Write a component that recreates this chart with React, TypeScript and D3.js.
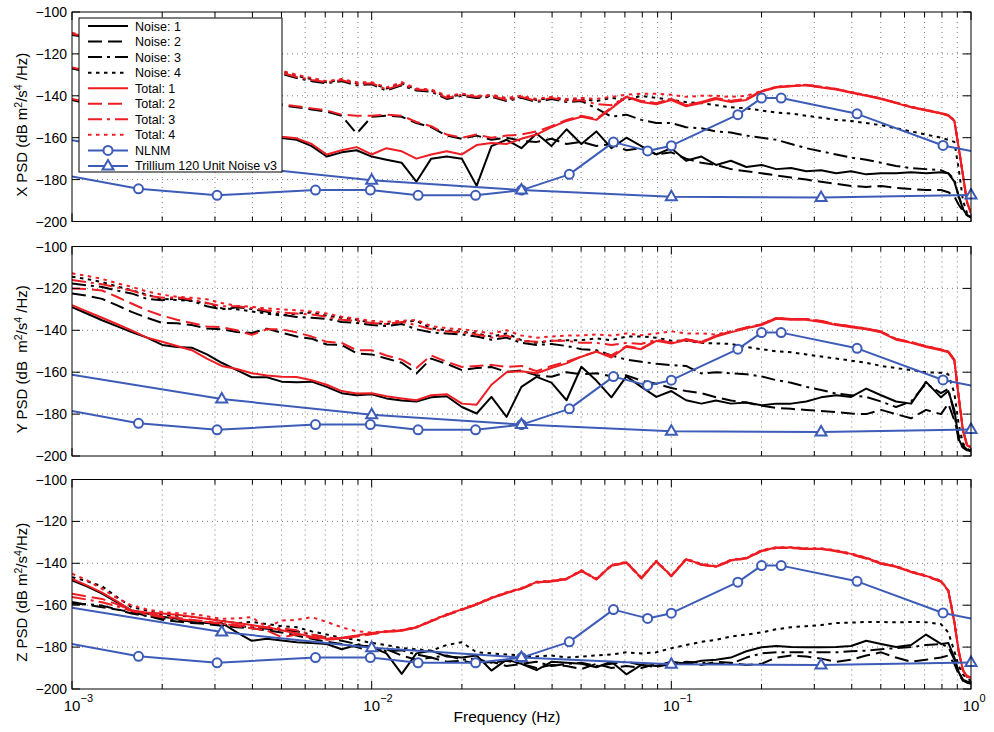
import React from 'react';
import * as d3 from 'd3';

// frequency grid (Hz) the PSD curves were read at
const freqs = [
  0.001, 0.00112, 0.00126, 0.00141, 0.00158, 0.00178, 0.002, 0.00224, 0.00251, 0.00282,
  0.00316, 0.00355, 0.00398, 0.00447, 0.00501, 0.00562, 0.00631, 0.00708, 0.00794, 0.00891,
  0.01, 0.0112, 0.0126, 0.0141, 0.0158, 0.0178, 0.02, 0.0224, 0.0251, 0.0282,
  0.0316, 0.0355, 0.0398, 0.0447, 0.0501, 0.0562, 0.0631, 0.0708, 0.0794, 0.0891,
  0.1, 0.112, 0.126, 0.141, 0.158, 0.178, 0.2, 0.224, 0.251, 0.282,
  0.316, 0.355, 0.398, 0.447, 0.501, 0.562, 0.631, 0.708, 0.794, 0.84,
  0.88, 0.91, 0.94, 0.97, 1.0,
];

// ---- X component ----
const noiseX1 = [
  -142, -143.7, -145.2, -146.7, -148.2, -149.7, -151.2, -152.7, -153.7, -155.2,
  -156.2, -157.2, -158.2, -159.2, -160.2, -161, -164, -169, -167, -166,
  -169, -170.5, -172, -181, -170, -169, -170, -183, -164, -161,
  -165, -158, -164, -156, -163, -157, -165, -160, -164, -168,
  -165, -171, -169, -173, -171, -174, -173, -175, -174.5, -176,
  -175.5, -177, -176, -177.5, -177, -177, -176.5, -177, -176.5, -177,
  -181, -188, -194, -197, -198,
];
const noiseX2 = [
  -127, -128.5, -130, -131.5, -133, -134.5, -136, -137.5, -138.5, -139.5,
  -140.5, -141.5, -142.5, -143.5, -144.5, -145.5, -146.5, -147.5, -149.5, -158,
  -150, -149.5, -150, -153, -155, -159, -160.5, -159, -161, -160,
  -161.5, -162, -160.5, -163, -162, -164, -163, -166, -165, -168,
  -167, -170, -172, -173, -175, -176, -177, -178, -179, -180,
  -181, -182, -183, -183.5, -183, -184, -184.5, -185, -185, -186,
  -188, -192, -195, -197, -198,
];
const noiseX3 = [
  -111, -112, -113.5, -115, -116.5, -118, -119.5, -121, -122.5, -124,
  -125, -126, -127, -128, -129.5, -131.5, -133, -134, -133, -135,
  -134.5, -137.5, -135, -137.5, -138, -141.5, -140, -141, -140.5, -142.5,
  -141, -143, -141.5, -143, -142.5, -146, -150, -149, -151.5, -153,
  -153, -155, -155.5, -157, -157.5, -159, -160, -161, -163, -165,
  -166.5, -168, -169.5, -170.5, -172, -173.5, -174.5, -175, -175.5, -177,
  -180, -188, -194, -197, -198,
];
const noiseX4 = [
  -110.5, -111.5, -113, -114.5, -116, -117.5, -119, -120.5, -122, -123,
  -124, -125, -126, -127, -128.5, -130.5, -132, -133.5, -132.5, -134,
  -134, -136.5, -134, -137, -137.5, -140.5, -139.5, -140.5, -140, -141.5,
  -140.5, -142, -141, -142, -141.5, -142.5, -141, -142, -140, -141,
  -142, -143, -143.5, -144.5, -145.5, -146, -147, -148, -148.5, -149.5,
  -150.5, -151.5, -152, -153, -154, -155.5, -157, -158.5, -160, -161,
  -162, -175, -190, -196, -198,
];
const totalX1 = [
  -141.5, -143, -144.5, -146, -147.5, -149, -150.5, -152, -153, -154.5,
  -155.5, -156.5, -157.5, -158.5, -159.5, -160.3, -163, -168, -166, -164.5,
  -168, -165, -166.5, -170, -168, -166.5, -168, -163.5, -162.5, -163,
  -160.5, -158.5, -155, -152, -150, -151.5, -146, -140.5, -143, -144,
  -142, -145, -143.5, -141.5, -143, -142, -138, -136, -135.5, -135,
  -136, -137, -138.5, -140, -141.5, -143.5, -145.5, -147, -148.5, -149.5,
  -152, -165, -178, -191, -196,
];
const totalX2 = [
  -126.5, -128, -129.5, -131, -132.5, -134, -135.5, -137, -138, -139,
  -140, -141, -142, -143, -144, -145, -146, -147, -149, -149.5,
  -149.5, -149, -149.5, -152.5, -154.5, -158.5, -160, -158.5, -160, -159,
  -158.5, -157, -154.5, -151.5, -149.5, -151, -145.5, -140.5, -142.5, -143.5,
  -141.5, -144.5, -143, -141, -142.5, -141.5, -137.8, -135.8, -135.3, -134.8,
  -135.8, -136.8, -138.3, -139.8, -141.3, -143.3, -145.3, -146.8, -148.3, -149.3,
  -151.8, -164.8, -177.8, -190.8, -195.8,
];
const totalX3 = [
  -110.5, -111.5, -113, -114.5, -116, -117.5, -119, -120.5, -122, -123.5,
  -124.5, -125.5, -126.5, -127.5, -129, -131, -132.5, -133.5, -132.5, -134.5,
  -134, -137, -134.5, -137, -137.5, -141, -139.5, -140.5, -140, -142,
  -140.5, -142.5, -141, -142.5, -142, -144, -144.5, -140.5, -142.5, -143.5,
  -141.5, -144.5, -143, -141, -142.5, -141.5, -137.8, -135.8, -135.3, -134.8,
  -135.8, -136.8, -138.3, -139.8, -141.3, -143.3, -145.3, -146.8, -148.3, -149.3,
  -151.8, -164.8, -177.8, -190.8, -195.8,
];
const totalX4 = [
  -110, -111, -112.5, -114, -115.5, -117, -118.5, -120, -121.5, -122.5,
  -123.5, -124.5, -125.5, -126.5, -128, -130, -131.5, -133, -132, -133.5,
  -133.5, -136, -133.5, -136.5, -137, -140, -139, -140, -139.5, -141,
  -140, -141.5, -140.5, -141.5, -141, -141.5, -140.5, -139.5, -139, -139,
  -139.5, -140.5, -140, -140, -140.5, -140, -137.7, -135.7, -135.2, -134.7,
  -135.7, -136.7, -138.2, -139.7, -141.2, -143.2, -145.2, -146.7, -148.2, -149.2,
  -151.7, -164.7, -177.7, -190.7, -195.7,
];

// ---- Y component ----
const noiseY1 = [
  -129, -132, -135.2, -138, -140.8, -143.5, -147, -148, -148.3, -151.5,
  -155.5, -159, -162.4, -162.4, -164.5, -164.8, -164.5, -167, -170, -171,
  -170.5, -172.5, -173.5, -174, -172, -171.5, -176.6, -179.7, -171.8, -181.3,
  -167, -162.2, -165, -173.4, -157.4, -164, -172, -162, -167, -171.8,
  -169, -173.4, -175, -173.5, -175, -174.5, -175.8, -175, -175, -174,
  -172, -171, -171.8, -167.8, -171, -174, -175, -164.6, -172, -169,
  -178, -192, -196, -197.3, -197.5,
];
const noiseY2 = [
  -122.4, -123.5, -125, -128, -131.2, -134, -136.5, -136.6, -137.5, -139.2,
  -139.5, -140.8, -141.3, -139.2, -141.2, -143, -144, -146.8, -147, -151,
  -151.5, -153.5, -155.5, -160.6, -153.5, -156, -159, -158, -157.5, -159.8,
  -159.2, -161.5, -162.2, -160, -161, -160.5, -162, -161.5, -164, -165.5,
  -167.5, -169, -170, -172, -173.5, -174.5, -176, -177, -177.5, -178,
  -178.5, -179, -179.7, -180, -178, -180, -182, -178, -180, -175,
  -183, -190, -195, -197, -197.5,
];
const noiseY3 = [
  -117.6, -118.5, -119.3, -121, -122.4, -125, -125.6, -124.8, -126, -128.5,
  -130, -129, -129.8, -131.2, -132.5, -133.6, -134, -134.5, -136, -136.5,
  -137.5, -138, -137, -139.5, -141, -141.5, -142, -143, -144.5, -143.5,
  -146, -147, -146.5, -147.5, -149, -149.5, -152, -154, -155, -156,
  -156.6, -157, -160.6, -160, -160.5, -161, -162, -163.8, -165, -167,
  -168.5, -170.2, -171, -171.8, -174, -176.6, -174, -165.4, -170, -168,
  -180, -193, -196, -197, -197.5,
];
const noiseY4 = [
  -114.4, -115.5, -117, -119, -120.8, -123, -125, -125.5, -126, -127,
  -129.5, -130, -131, -132, -133, -132, -131.5, -133, -134, -135,
  -136.5, -137, -136, -135.5, -139, -140, -140.7, -141.5, -143, -141.5,
  -144.7, -146, -145, -144.7, -144.7, -143.9, -144.7, -143, -143, -143.5,
  -145, -145, -146, -146.3, -146.5, -148, -149, -150, -150.5, -151.5,
  -152.5, -153.5, -154.5, -155.5, -157, -158, -159, -160, -160.3, -161,
  -170, -185, -194, -196.5, -197.5,
];
const totalY1 = [
  -128, -131, -134, -137, -140, -143.5, -145.5, -147.5, -149.5, -153.5,
  -157, -158.5, -160.5, -161.6, -162.2, -162.3, -163.8, -166, -169, -170.2,
  -170, -171.5, -172.5, -173.4, -171, -170.5, -175, -175.5, -166, -160,
  -159.5, -160.5, -158, -155.8, -152.6, -150.2, -153, -147.8, -149, -145,
  -146.3, -144.7, -146, -143, -141, -139, -137.5, -134.5, -135, -135,
  -136, -137.5, -138.5, -139.5, -141, -144.5, -146, -148, -149.5, -150.5,
  -154.5, -172, -188, -195, -196,
];
const totalY2 = [
  -120, -120.3, -121, -124, -127.2, -130.5, -133, -135, -136.5, -138.2,
  -138.5, -140, -142.2, -139.5, -139.5, -141, -143, -145.5, -146, -149.5,
  -149.5, -152, -154, -158, -152, -155, -157.5, -157, -156.5, -157.5,
  -157, -159.5, -157, -155, -152.5, -150.2, -152, -147.5, -148.7, -144.6,
  -145.9, -144.3, -145.6, -142.6, -140.6, -138.6, -137.1, -134.1, -134.6, -134.6,
  -135.6, -137.1, -138.1, -139.1, -140.6, -144.1, -145.6, -147.6, -149.1, -150.1,
  -154.1, -171.6, -187.6, -194.6, -195.6,
];
const totalY3 = [
  -116, -117, -118, -119.5, -121, -123.5, -124.5, -124.3, -125.3, -127,
  -128.5, -128.5, -129.3, -130.5, -131.5, -132, -132.5, -133.5, -135, -135.5,
  -136.5, -137, -136, -137.5, -139.5, -140.5, -141, -142, -143.5, -142.5,
  -145, -145.5, -145, -145, -146, -146, -147, -146, -146.5, -144.6,
  -145.9, -144.3, -145.6, -142.6, -140.6, -138.6, -137.1, -134.1, -134.6, -134.6,
  -135.6, -137.1, -138.1, -139.1, -140.6, -144.1, -145.6, -147.6, -149.1, -150.1,
  -154.1, -171.6, -187.6, -194.6, -195.6,
];
const totalY4 = [
  -112.8, -114, -115.5, -117.5, -119.2, -121.5, -123, -124, -124.5, -125.2,
  -127, -128.3, -128.8, -129.6, -130, -130.4, -131, -132, -133.5, -134.5,
  -135.5, -136, -135.5, -135, -138, -139, -139.5, -140.5, -141.5, -140,
  -142.5, -143.5, -143, -142.5, -142.5, -142, -142.5, -141.5, -142.3, -141.5,
  -140.5, -141.5, -141.5, -142, -140.5, -139, -137.2, -134.2, -134.7, -134.7,
  -135.7, -137.2, -138.2, -139.2, -140.7, -144.2, -145.7, -147.7, -149.2, -150.2,
  -154.2, -171.7, -187.7, -194.7, -195.7,
];

// ---- Z component ----
const noiseZ1 = [
  -148.2, -151, -154.5, -158.5, -162.5, -164, -165.5, -166.5, -168, -168.5,
  -168.5, -173, -177, -176, -176.9, -177.7, -178, -178.5, -181, -179,
  -180, -183, -192.8, -183, -181.7, -184.5, -185, -184, -191.2, -186,
  -188, -191, -187, -187.5, -188, -189.6, -187, -193, -188.5, -189,
  -187, -188, -186.5, -186, -185, -182, -180.1, -179.5, -180, -180.1,
  -180.1, -180, -179.5, -177, -178.5, -180, -179, -174, -178.5, -178,
  -185, -192, -196, -196.5, -197,
];
const noiseZ2 = [
  -158.5, -159.8, -161, -162, -163.3, -165, -167, -167.8, -168.5, -169,
  -169.8, -170.5, -171, -172, -173, -174.5, -176, -177.5, -178.5, -180,
  -182, -181, -184, -186, -185, -187, -186.5, -188, -187, -189,
  -188, -190, -188.5, -189, -190.5, -188, -190, -189, -190, -188,
  -189, -187.5, -188.5, -187, -187.5, -188.5, -188, -185, -184, -184.5,
  -185.5, -187, -186, -184, -182.5, -185, -187, -186, -185, -184,
  -188, -193, -196, -197, -197.5,
];
const noiseZ3 = [
  -159.3, -159.5, -160.2, -162, -164, -165.2, -166.3, -167, -167.8, -168.5,
  -169.3, -170, -170.5, -171.3, -171.8, -172.5, -174, -175.5, -177, -178.5,
  -180, -182, -181.5, -183.5, -185, -184, -186, -185.5, -187.5, -186.5,
  -188, -187, -189, -188, -187.5, -189, -188, -187, -188.5, -189.5,
  -188, -187, -187.5, -188, -188, -185, -183, -182.5, -182.5, -182.5,
  -182.5, -182.5, -182, -181.7, -181, -180.5, -180, -179, -178.5, -180,
  -186, -192, -195.5, -196.5, -197,
];
const noiseZ4 = [
  -146.6, -148.5, -151, -156, -160.9, -162.5, -164.5, -165, -165.5, -166.5,
  -167.5, -168.5, -168, -169, -170, -170.5, -172.5, -174, -175.5, -176.5,
  -178, -179, -180.5, -181, -181.7, -179, -177.7, -182.5, -183, -183.5,
  -184, -184.5, -184, -185, -184.5, -184, -183.5, -182.5, -183, -182.5,
  -180.5, -179, -177.5, -176.5, -175, -174, -173, -171.5, -170.5, -170,
  -169.5, -168.5, -168.3, -168, -168, -168.2, -168, -168.1, -169, -173,
  -182, -189, -193, -195, -196,
];
const totalZ1 = [
  -147.4, -150.5, -154, -158, -162.5, -163.5, -164, -164.5, -165.5, -166.5,
  -167.5, -168.5, -169.5, -170.5, -172, -173.5, -175, -176, -175.5, -174.5,
  -173.3, -172.5, -172, -170.5, -167.5, -164.5, -162, -159.5, -156.5, -154,
  -152, -149, -148.5, -147.4, -143.5, -147.5, -141, -139.5, -147, -139,
  -146, -138, -140.5, -141.5, -138.5, -137.5, -134, -132.5, -132.5, -133,
  -133, -134, -135.5, -137.5, -140, -141.5, -144, -146, -148.5, -153,
  -168, -182, -191, -194, -194.5,
];
const totalZ2 = [
  -154.5, -155.8, -157, -159.5, -162.5, -164, -165.3, -166, -167, -167.8,
  -168.7, -170, -171, -172.1, -175.3, -174, -175.5, -176.5, -176, -175,
  -173.8, -172.7, -172.2, -170.7, -167.7, -164.7, -162.2, -159.7, -156.7, -154.2,
  -152.2, -149.2, -148.7, -147.6, -143.7, -147.7, -141.2, -139.7, -147.2, -139.2,
  -146.2, -138.2, -140.7, -141.7, -138.7, -137.7, -134.2, -132.7, -132.7, -133.2,
  -133.2, -134.2, -135.7, -137.7, -140.2, -141.7, -144.2, -146.2, -148.7, -153.2,
  -168.2, -182.2, -191.2, -194.2, -194.7,
];
const totalZ3 = [
  -156.1, -157.3, -158.6, -160.5, -162.8, -164.5, -165.8, -166.5, -167.3, -168,
  -168.9, -169.5, -170.3, -170.8, -171, -172, -174, -175.5, -175.8, -174.8,
  -173.8, -172.7, -172.2, -170.7, -167.7, -164.7, -162.2, -159.7, -156.7, -154.2,
  -152.2, -149.2, -148.7, -147.6, -143.7, -147.7, -141.2, -139.7, -147.2, -139.2,
  -146.2, -138.2, -140.7, -141.7, -138.7, -137.7, -134.2, -132.7, -132.7, -133.2,
  -133.2, -134.2, -135.7, -137.7, -140.2, -141.7, -144.2, -146.2, -148.7, -153.2,
  -168.2, -182.2, -191.2, -194.2, -194.7,
];
const totalZ4 = [
  -145, -148, -152.2, -156.5, -160.1, -162, -163.3, -163.8, -164.1, -165.3,
  -166.5, -166.3, -165.7, -170.5, -167.3, -167, -165.7, -168, -170.5, -172.5,
  -173, -172.3, -171.8, -170.3, -167.3, -164.3, -161.8, -159.3, -156.3, -153.8,
  -151.8, -148.8, -148.3, -147.2, -143.3, -147.3, -140.8, -139.3, -146.8, -138.8,
  -145.8, -137.8, -140.3, -141.3, -138.3, -137.3, -133.8, -132.3, -132.3, -132.8,
  -132.8, -133.8, -135.3, -137.3, -139.8, -141.3, -143.8, -145.8, -148.3, -152.8,
  -167.8, -181.8, -190.8, -193.8, -194.3,
];

// ---- reference models ----
const nlnmFreq = [0.001, 0.001667, 0.003049, 0.006494, 0.009901, 0.014286, 0.022222, 0.031646, 0.045662,
  0.064103, 0.083333, 0.1, 0.166667, 0.2, 0.232558, 0.416667, 0.806452, 1];
const nlnmDb = [-178.5, -184.4, -187.5, -185.0, -185.0, -187.5, -187.5, -185.0, -177.5,
  -162.1, -166.3, -163.8, -149.0, -141.1, -141.1, -148.6, -163.7, -166.4];
const trilliumFreq = [0.001, 0.00316, 0.01, 0.0316, 0.1, 0.316, 1];
const trilliumDb = [-161.2, -172.8, -180.3, -185, -188.2, -188.6, -187.3];

const seriesNames = ['Noise: 1', 'Noise: 2', 'Noise: 3', 'Noise: 4', 'Total: 1', 'Total: 2', 'Total: 3', 'Total: 4'];
const yTicks = [-200, -180, -160, -140, -120, -100];
const decadeExp = [-3, -2, -1, 0];

const BLACK = '#000000';
const RED = '#ee1d23';
const BLUE = '#3d5cb8';
const FONT = '"Liberation Sans", Arial, Helvetica, sans-serif';

const styles = [
  { color: BLACK, dash: undefined },
  { color: BLACK, dash: '14,6' },
  { color: BLACK, dash: '14,5,3,5' },
  { color: BLACK, dash: '3.5,4.5' },
  { color: RED, dash: undefined },
  { color: RED, dash: '14,6' },
  { color: RED, dash: '14,5,3,5' },
  { color: RED, dash: '3.5,4.5' },
];

const panels = [
  { name: 'X', pre: 'X PSD (dB m', gapB: ' ', series: [noiseX1, noiseX2, noiseX3, noiseX4, totalX1, totalX2, totalX3, totalX4] },
  { name: 'Y', pre: 'Y PSD (dB\u00a0 m', gapB: ' ', series: [noiseY1, noiseY2, noiseY3, noiseY4, totalY1, totalY2, totalY3, totalY4] },
  { name: 'Z', pre: 'Z PSD (dB m', gapB: '', series: [noiseZ1, noiseZ2, noiseZ3, noiseZ4, totalZ1, totalZ2, totalZ3, totalZ4] },
];

const W = 994, H = 732;
const left = 72, right = 971;
const panelH = 209.5;
const panelTops = [12, 246.5, 479.5];

const x = d3.scaleLog().domain([1e-3, 1]).range([left, right]);
const xTicks = x.ticks();
const isMajor = (t: number) => Math.abs(Math.log10(t) - Math.round(Math.log10(t))) < 1e-6;

const Triangle = ({ cx, cy }: { cx: number; cy: number }) => (
  <path d={`M${cx},${cy - 6}L${cx + 5.5},${cy + 3.5}L${cx - 5.5},${cy + 3.5}Z`}
    fill="white" stroke={BLUE} strokeWidth={2} />
);

function Panel({ idx }: { idx: number }) {
  const p = panels[idx];
  const top = panelTops[idx];
  const bottom = top + panelH;
  const y = d3.scaleLinear().domain([-200, -100]).range([bottom, top]);
  const line = d3.line<number>().x((_, i) => x(freqs[i])).y(d => y(d));
  const nlnmLine = d3.line<number>().x((_, i) => x(nlnmFreq[i])).y(d => y(d));
  const trilLine = d3.line<number>().x((_, i) => x(trilliumFreq[i])).y(d => y(d));
  const clipId = `clip${idx}`;
  const cy = (top + bottom) / 2 + 8;
  return (
    <g>
      <defs>
        <clipPath id={clipId}>
          <rect x={left} y={top} width={right - left} height={panelH} />
        </clipPath>
      </defs>
      {/* grid */}
      {xTicks.filter(t => t > 1e-3 && t < 1).map(t => (
        <line key={'gx' + t} x1={x(t)} x2={x(t)} y1={top} y2={bottom} stroke="#555" strokeWidth={0.8} strokeDasharray="1,4" />
      ))}
      {yTicks.filter(v => v > -200 && v < -100).map(v => (
        <line key={'gy' + v} x1={left} x2={right} y1={y(v)} y2={y(v)} stroke="#555" strokeWidth={0.8} strokeDasharray="1,4" />
      ))}
      {/* data */}
      <g clipPath={`url(#${clipId})`} fill="none" strokeWidth={2} strokeLinejoin="round">
        {p.series.map((s, i) => (
          <path key={i} d={line(s) || ''} stroke={styles[i].color} strokeDasharray={styles[i].dash} />
        ))}
        <path d={nlnmLine(nlnmDb) || ''} stroke={BLUE} />
        <path d={trilLine(trilliumDb) || ''} stroke={BLUE} />
      </g>
      {nlnmDb.map((v, i) => (i > 0 && i < nlnmDb.length - 1) ? (
        <circle key={'n' + i} cx={x(nlnmFreq[i])} cy={y(v)} r={4.5} fill="white" stroke={BLUE} strokeWidth={2} />
      ) : null)}
      {trilliumDb.map((v, i) => i > 0 ? <Triangle key={'t' + i} cx={x(trilliumFreq[i])} cy={y(v)} /> : null)}
      {/* box and ticks */}
      <rect x={left} y={top} width={right - left} height={panelH} fill="none" stroke="black" strokeWidth={1} />
      {xTicks.map(t => {
        const len = isMajor(t) ? 8 : 5;
        return (
          <g key={'tx' + t} stroke="black" strokeWidth={1}>
            <line x1={x(t)} x2={x(t)} y1={bottom} y2={bottom - len} />
            <line x1={x(t)} x2={x(t)} y1={top} y2={top + len} />
          </g>
        );
      })}
      {yTicks.map(v => (
        <g key={'ty' + v}>
          <line x1={left} x2={left + 8} y1={y(v)} y2={y(v)} stroke="black" />
          <line x1={right} x2={right - 8} y1={y(v)} y2={y(v)} stroke="black" />
          <text x={67} y={y(v) + 5} textAnchor="end" fontSize={14} fontFamily={FONT}>
            {String(v).replace('-', '\u2212')}
          </text>
        </g>
      ))}
      <text transform={`translate(27,${cy}) rotate(-90)`} textAnchor="middle" fontSize={15} fontFamily={FONT} style={{ whiteSpace: 'pre' }}>
        {p.pre}
        <tspan dy={-5} fontSize={10.5}>2</tspan>
        <tspan dy={5}>/s</tspan>
        <tspan dy={-5} fontSize={10.5}>4</tspan>
        <tspan dy={5}>{p.gapB + '/Hz)'}</tspan>
      </text>
      {idx === 2 && decadeExp.map(e => (
        <g key={'lx' + e} fontFamily={FONT}>
          <text x={x(Math.pow(10, e))} y={711} textAnchor="middle" fontSize={15}>10</text>
          <text x={x(Math.pow(10, e)) + 8.5} y={702} fontSize={11}>{e === 0 ? '0' : '\u2212' + Math.abs(e)}</text>
        </g>
      ))}
    </g>
  );
}

function Legend() {
  const x0 = 79, y0 = 18, w = 203, h = 154;
  const step = 15.55;
  const rows = [...seriesNames, 'NLNM', 'Trillium 120 Unit Noise v3'];
  return (
    <g fontFamily={FONT} fontSize={12.5}>
      <rect x={x0} y={y0} width={w} height={h} fill="white" stroke="black" strokeWidth={1} />
      {rows.map((name, i) => {
        const ry = 26 + i * step;
        const st = i < 8 ? styles[i] : { color: BLUE, dash: undefined };
        return (
          <g key={name}>
            <line x1={88} x2={128} y1={ry} y2={ry} stroke={st.color} strokeWidth={2} strokeDasharray={st.dash} />
            {i === 8 && <circle cx={108} cy={ry} r={4.5} fill="white" stroke={BLUE} strokeWidth={2} />}
            {i === 9 && <Triangle cx={108} cy={ry} />}
            <text x={135} y={ry + 4.5}>{name}</text>
          </g>
        );
      })}
    </g>
  );
}

export default function App() {
  return (
    <svg width={W} height={H} style={{ position: 'absolute', left: 0, top: 0, background: 'white' }}>
      <rect width={W} height={H} fill="white" />
      {panels.map((_, i) => <Panel key={i} idx={i} />)}
      <Legend />
      <text x={507} y={722} textAnchor="middle" fontSize={15.5} fontFamily={FONT}>Frequency (Hz)</text>
    </svg>
  );
}
